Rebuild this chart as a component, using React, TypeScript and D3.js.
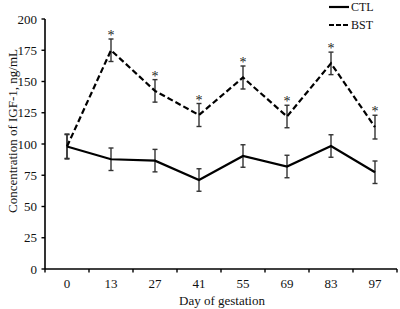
import React from "react";
import * as d3 from "d3";

const days = ["0", "13", "27", "41", "55", "69", "83", "97"];
const ctl = [98, 87.8, 86.7, 71.2, 90.4, 82, 98.4, 77.4];
const ctlErr = [9.5, 9, 9, 9, 9, 9, 9, 9];
const bst = [98, 175, 142.5, 123.2, 153.2, 122, 164.5, 113.5];
const bstErr = [10, 9, 9, 9.2, 9.2, 9, 9, 9.5];
const signif = [false, true, true, true, true, true, true, true];
const yTicks = [0, 25, 50, 75, 100, 125, 150, 175, 200];

const W = 400, H = 309;
const left = 45, right = 397, top = 19, bottom = 269;

export default function App() {
  const x = d3.scaleBand<string>().domain(days).range([left, right]);
  const y = d3.scaleLinear().domain([0, 200]).range([bottom, top]);
  const cx = (d: string) => (x(d) as number) + x.bandwidth() / 2;
  const line = d3.line<number>().x((_, i) => cx(days[i])).y((v) => y(v));
  const font = "'Liberation Serif', 'Times New Roman', serif";
  const bounds = [...days.map((d) => x(d) as number), right];

  const errBars = (vals: number[], errs: number[], key: string) =>
    vals.map((v, i) => {
      const X = cx(days[i]);
      const y1 = y(v + errs[i]);
      const y2 = y(v - errs[i]);
      return (
        <g key={key + i} stroke="#333" strokeWidth={1.4}>
          <line x1={X} x2={X} y1={y1} y2={y2} />
          <line x1={X - 2.5} x2={X + 2.5} y1={y1} y2={y1} />
          <line x1={X - 2.5} x2={X + 2.5} y1={y2} y2={y2} />
        </g>
      );
    });

  return (
    <svg width={W} height={H} style={{ position: "absolute", left: 0, top: 0, background: "#fff" }} fontFamily={font}>
      <rect x={0} y={0} width={W} height={H} fill="#fff" />
      {/* axes */}
      <line x1={left} x2={left} y1={top} y2={bottom} stroke="#000" strokeWidth={1.6} />
      <line x1={left} x2={right} y1={bottom} y2={bottom} stroke="#000" strokeWidth={1.6} />
      {yTicks.map((t) => (
        <g key={"yt" + t}>
          <line x1={left - 3.5} x2={left} y1={y(t)} y2={y(t)} stroke="#000" strokeWidth={1.4} />
          <text x={left - 8} y={y(t)} dy="0.35em" textAnchor="end" fontSize={13} fill="#111">
            {t}
          </text>
        </g>
      ))}
      {bounds.map((b, i) => (
        <line key={"xt" + i} x1={b} x2={b} y1={bottom} y2={bottom + 3.5} stroke="#000" strokeWidth={1.4} />
      ))}
      {days.map((d) => (
        <text key={"xl" + d} x={cx(d)} y={283} dy="0.35em" textAnchor="middle" fontSize={13} fill="#111">
          {d}
        </text>
      ))}
      <text x={222} y={300} dy="0.35em" textAnchor="middle" fontSize={13} fill="#111">
        Day of gestation
      </text>
      <text
        transform={`translate(12,${131}) rotate(-90)`}
        dy="0.35em"
        textAnchor="middle"
        fontSize={13}
        fill="#111"
      >
        Concentration of IGF-1, ng/mL
      </text>

      {/* series */}
      {errBars(ctl, ctlErr, "c")}
      {errBars(bst, bstErr, "b")}
      <path d={line(ctl) || ""} fill="none" stroke="#000" strokeWidth={2.2} />
      <path d={line(bst) || ""} fill="none" stroke="#000" strokeWidth={2.2} strokeDasharray="6,3" />
      {bst.map((v, i) =>
        signif[i] ? (
          <text
            key={"s" + i}
            x={cx(days[i])}
            y={y(v + bstErr[i]) + 1}
            textAnchor="middle"
            fontSize={14}
            fill="#222"
          >
            {"*"}
          </text>
        ) : null
      )}

      {/* legend */}
      <line x1={329} x2={349} y1={7} y2={7} stroke="#000" strokeWidth={2.2} />
      <text x={351} y={7} dy="0.35em" fontSize={12} fill="#111">CTL</text>
      <line x1={329} x2={349} y1={25} y2={25} stroke="#000" strokeWidth={2.2} strokeDasharray="5,2" />
      <text x={351} y={25} dy="0.35em" fontSize={12} fill="#111">BST</text>
    </svg>
  );
}
